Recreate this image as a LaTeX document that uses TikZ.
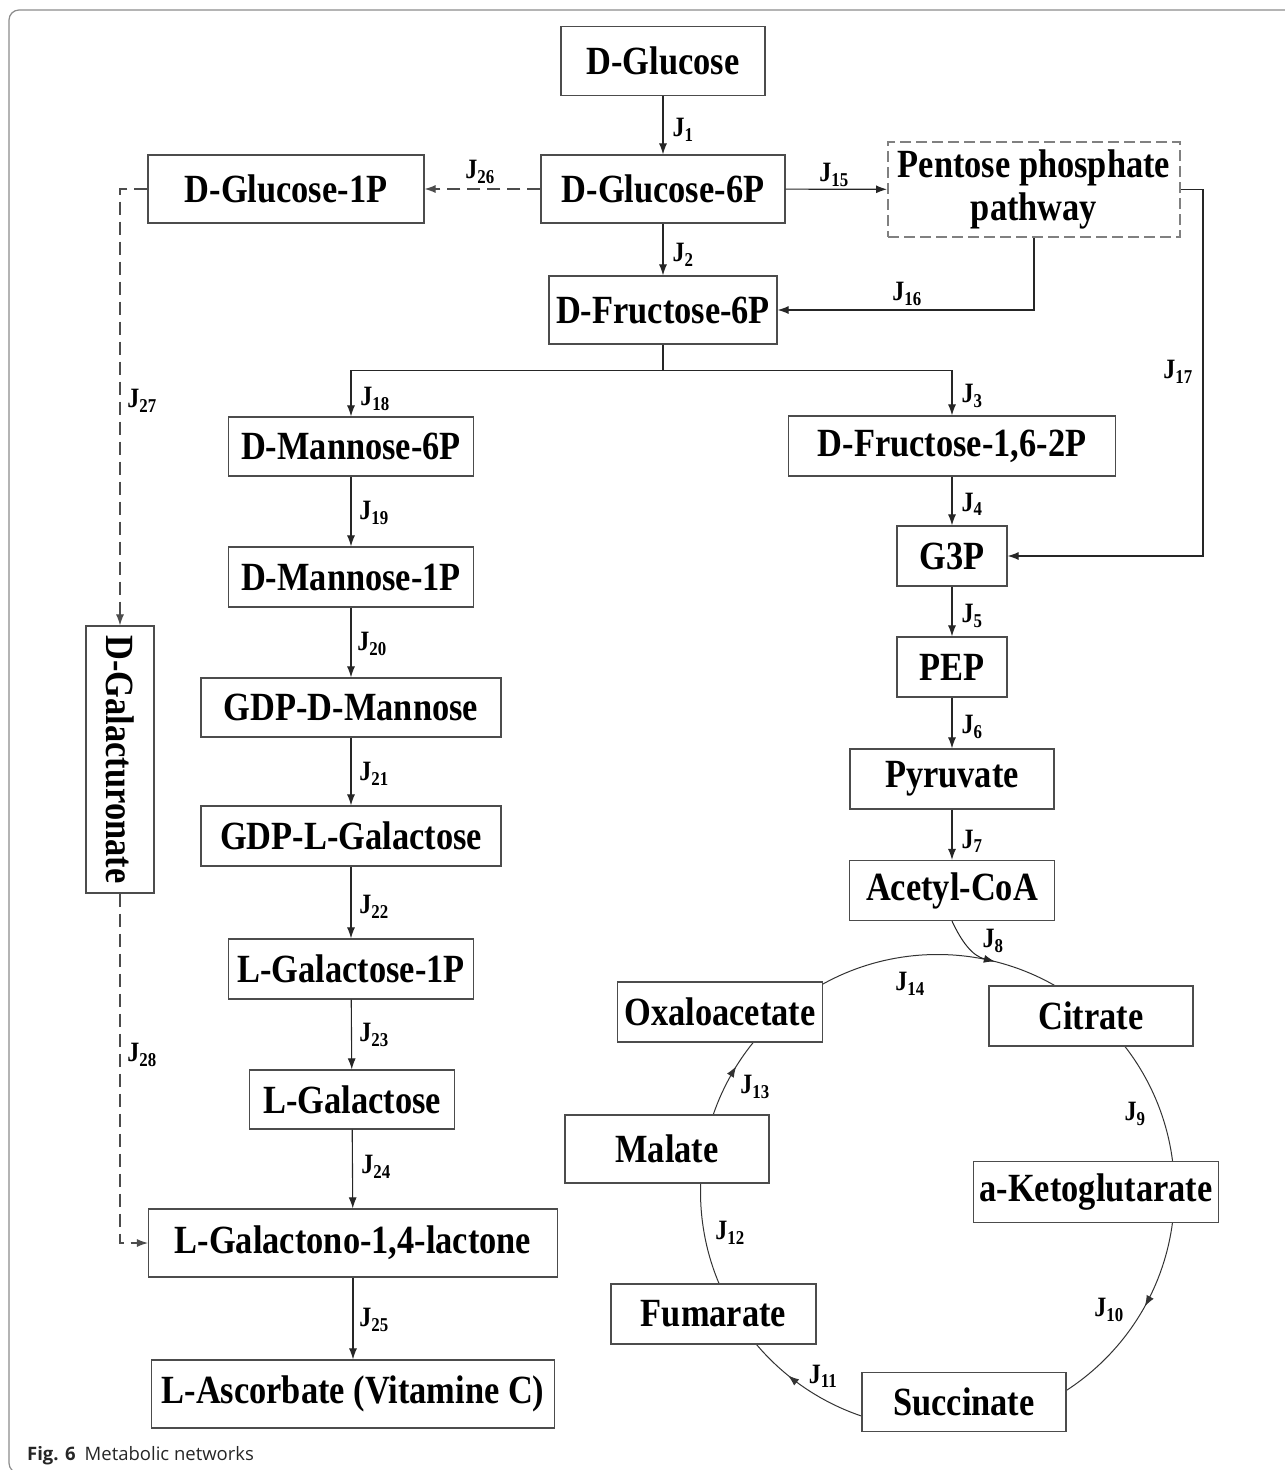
\documentclass[tikz,border=0pt]{standalone}
\usepackage{fontspec}
\setmainfont{Liberation Serif}[FakeStretch=0.86]
\newfontfamily\capfont{Open Sans}
\usetikzlibrary{arrows.meta,decorations.markings}

\newcommand{\cajafont}{\fontsize{40}{43}\selectfont\bfseries}
\newcommand{\jfont}{\fontsize{28}{30}\selectfont\bfseries}

\begin{document}
\begin{tikzpicture}[x=1pt, y=-1pt,
    caja/.style={draw=black!70, line width=1.2pt, fill=white, inner sep=0pt, font=\cajafont},
    ruta/.style={caja, draw=black!50, line width=2pt, dash pattern=on 11pt off 5pt, align=center},
    jlab/.style={font=\jfont, inner sep=0pt},
    flecha/.style={black!85, line width=1.1pt, -{Latex[length=11pt, width=8pt]}},
    flechad/.style={flecha, draw=black!70, dash pattern=on 13pt off 7pt},
    ciclo/.style={black!80, line width=1pt},
    marco/.style={black!45, line width=1.2pt, rounded corners=10pt}]
    \useasboundingbox (0,0) rectangle (1285,1470);

    % Marco
    \draw[marco] (9,10) rectangle (1340,1473);

    % Ciclo de Krebs (circulo)
    \coordinate (cyc) at (937.5,1191.5);
    \draw[ciclo, decoration={markings,
            mark=at position 0.3306 with {\arrow{Latex[length=11pt, width=8pt]}},
            mark=at position 0.6086 with {\arrow{Latex[length=11pt, width=8pt]}},
            mark=at position 0.8386 with {\arrow{Latex[length=11pt, width=8pt]}}},
        postaction={decorate}]
        ([shift={(90:237pt)}]cyc) arc[start angle=90, end angle=-270, radius=237pt];
    \coordinate (j8end) at ([shift={(76:237pt)}]cyc);

    % Glucolisis
    \node[caja, minimum width=204, minimum height=69] (glc) at (663,61) {D-Glucose};
    \node[caja, minimum width=244, minimum height=68] (g6p) at (663,189) {D-Glucose-6P};
    \node[caja, minimum width=276, minimum height=68] (g1p) at (286,189) {D-Glucose-1P};
    \node[ruta, minimum width=292, minimum height=95] (ppp) at (1034,189.5) {Pentose phosphate\\pathway};
    \node[caja, minimum width=228, minimum height=68] (f6p) at (663,310) {D-Fructose-6P};
    \node[caja, minimum width=327, minimum height=60] (f16) at (952,446) {D-Fructose-1,6-2P};
    \node[caja, minimum width=110, minimum height=60] (g3p) at (952,556) {G3P};
    \node[caja, minimum width=110, minimum height=60] (pep) at (952,667) {PEP};
    \node[caja, minimum width=204, minimum height=60] (pyr) at (952,779) {Pyruvate};
    \node[caja, minimum width=205, minimum height=60] (acoa) at (952,890.5) {Acetyl-CoA};

    % Ruta de la vitamina C
    \node[caja, minimum width=245, minimum height=59] (m6p) at (351,446.5) {D-Mannose-6P};
    \node[caja, minimum width=245, minimum height=60] (m1p) at (351,577) {D-Mannose-1P};
    \node[caja, minimum width=300, minimum height=59] (gdpm) at (351,707.5) {GDP-D-Mannose};
    \node[caja, minimum width=300, minimum height=60] (gdpg) at (351,836) {GDP-L-Galactose};
    \node[caja, minimum width=245, minimum height=60] (lg1p) at (351,969) {L-Galactose-1P};
    \node[caja, minimum width=205, minimum height=59] (lgal) at (352,1099.5) {L-Galactose};
    \node[caja, minimum width=409, minimum height=68] (lac) at (353,1243) {L-Galactono-1,4-lactone};
    \node[caja, minimum width=403, minimum height=68] (asc) at (353,1394) {L-Ascorbate (Vitamine C)};
    \node[caja, rotate=-90, minimum width=267, minimum height=68] (gal) at (120,759.5) {D-Galacturonate};

    % Metabolitos del ciclo
    \node[caja, minimum width=205, minimum height=60] (oxa) at (720,1012) {Oxaloacetate};
    \node[caja, minimum width=204, minimum height=60] (cit) at (1091,1016) {Citrate};
    \node[caja, minimum width=204, minimum height=68] (mal) at (667,1149) {Malate};
    \node[caja, minimum width=245, minimum height=61] (akg) at (1096,1192) {a-Ketoglutarate};
    \node[caja, minimum width=205, minimum height=60] (fum) at (713.5,1314) {Fumarate};
    \node[caja, minimum width=204, minimum height=59] (suc) at (964,1402) {Succinate};

    % Reacciones
    \draw[flecha] (glc) -- (g6p);
    \draw[flecha] (g6p) -- (f6p);
    \draw[flecha] (g6p) -- (ppp);
    \draw[flechad] (g6p) -- (g1p);
    \draw[flecha] (ppp.south) |- (f6p.east);
    \draw[flecha] (ppp.east) -- ++(22,0) |- (g3p.east);
    \draw[flecha] (f6p.south) -- ++(0,26) -| (m6p.north);
    \draw[flecha] (f6p.south) -- ++(0,26) -| (f16.north);
    \draw[flecha] (f16) -- (g3p);
    \draw[flecha] (g3p) -- (pep);
    \draw[flecha] (pep) -- (pyr);
    \draw[flecha] (pyr) -- (acoa);
    \draw[flecha, line width=1pt] (acoa.south) to[out=-65, in=166] (j8end);
    \draw[flecha] (m6p) -- (m1p);
    \draw[flecha] (m1p) -- (gdpm);
    \draw[flecha] (gdpm) -- (gdpg);
    \draw[flecha] (gdpg) -- (lg1p);
    \draw[flecha] (lg1p) -- (lgal);
    \draw[flecha] (lgal) -- (lac);
    \draw[flecha] (lac) -- (asc);
    \draw[flechad] (g1p.west) -| (gal.west);
    \draw[flechad] (gal.east) |- (lac.west);

    % Flujos J
    \node[jlab] (j1) at (683,130) {J\textsubscript{1}};
    \node[jlab] (j2) at (683,255) {J\textsubscript{2}};
    \node[jlab] (j3) at (972,396) {J\textsubscript{3}};
    \node[jlab] (j4) at (972,504) {J\textsubscript{4}};
    \node[jlab] (j5) at (972,616) {J\textsubscript{5}};
    \node[jlab] (j6) at (972,727) {J\textsubscript{6}};
    \node[jlab] (j7) at (972,841) {J\textsubscript{7}};
    \node[jlab] (j8) at (993,941) {J\textsubscript{8}};
    \node[jlab] (j9) at (1135,1114) {J\textsubscript{9}};
    \node[jlab] (j10) at (1109,1310) {J\textsubscript{10}};
    \node[jlab] (j11) at (823,1376) {J\textsubscript{11}};
    \node[jlab] (j12) at (730,1233) {J\textsubscript{12}};
    \node[jlab] (j13) at (755,1087) {J\textsubscript{13}};
    \node[jlab] (j14) at (910,984) {J\textsubscript{14}};
    \node[jlab] (j15) at (834,175) {J\textsubscript{15}};
    \node[jlab] (j16) at (907,294) {J\textsubscript{16}};
    \node[jlab] (j17) at (1178,372) {J\textsubscript{17}};
    \node[jlab] (j18) at (375,399) {J\textsubscript{18}};
    \node[jlab] (j19) at (374,513) {J\textsubscript{19}};
    \node[jlab] (j20) at (372,644) {J\textsubscript{20}};
    \node[jlab] (j21) at (374,774) {J\textsubscript{21}};
    \node[jlab] (j22) at (374,907) {J\textsubscript{22}};
    \node[jlab] (j23) at (374,1035) {J\textsubscript{23}};
    \node[jlab] (j24) at (376,1167) {J\textsubscript{24}};
    \node[jlab] (j25) at (374,1320) {J\textsubscript{25}};
    \node[jlab] (j26) at (480,172) {J\textsubscript{26}};
    \node[jlab] (j27) at (142,401) {J\textsubscript{27}};
    \node[jlab] (j28) at (142,1055) {J\textsubscript{28}};

    % Pie de figura
    \node[anchor=base west, inner sep=0pt, text=black!85,
        font=\capfont\fontsize{18.5}{20}\selectfont] (cap) at (27,1460)
        {\textbf{Fig. 6}\hspace{9pt}Metabolic networks};
\end{tikzpicture}
\end{document}
